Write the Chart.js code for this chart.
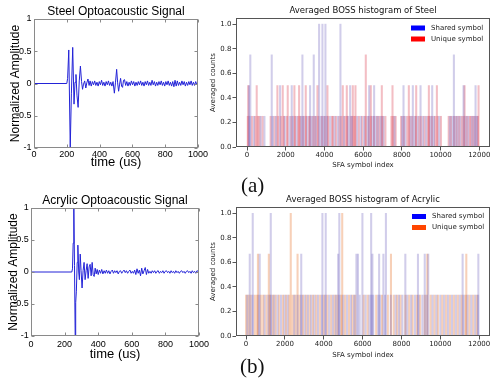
<!DOCTYPE html>
<html><head><meta charset="utf-8">
<script src="https://cdn.jsdelivr.net/npm/chart.js@4/dist/chart.umd.min.js"></script>
<style>
html,body{margin:0;padding:0;overflow:hidden;background:#fff;width:490px;height:382px;}
canvas{position:absolute;}
.lbl{position:absolute;font-family:"Liberation Serif",serif;font-size:21px;line-height:21px;color:#111;}
</style></head><body>
<canvas id="sigSteel" width="215" height="180" style="left:0;top:0"></canvas>
<canvas id="sigAcr" width="215" height="180" style="left:0;top:190px"></canvas>
<canvas id="histSteel" width="300" height="175" style="left:200px;top:0"></canvas>
<canvas id="histAcr" width="300" height="175" style="left:200px;top:190px"></canvas>
<div class="lbl" style="left:241px;top:175px">(a)</div>
<div class="lbl" style="left:240px;top:356px">(b)</div>
<script>
// ---------- data ----------
const timeTicks = [0, 200, 400, 600, 800, 1000];
const ampTicks = [-1, -0.5, 0, 0.5, 1];
const sfaTicks = [0, 2000, 4000, 6000, 8000, 10000, 12000];
const countTicks = [0, 0.2, 0.4, 0.6, 0.8, 1.0];

const steelT = [
0, 200, 205, 212, 221, 228, 236, 244, 250, 256,
262, 269, 276, 283, 290, 296, 302, 309, 316, 322,
329, 336, 342, 349, 356, 363, 370, 377, 384, 391,
398, 405, 412, 419, 426, 433, 440, 447, 454, 461,
468, 475, 482, 490, 497, 504, 510, 516, 522, 528,
534, 540, 546, 552, 559, 566, 573, 580, 587, 594,
601, 608, 615, 622, 629, 636, 643, 650, 657, 664,
671, 678, 685, 692, 699, 706, 713, 720, 727, 734,
741, 748, 755, 762, 769, 776, 783, 790, 797, 804,
811, 818, 825, 832, 839, 846, 853, 860, 867, 874,
881, 888, 895, 902, 909, 916, 923, 930, 937, 944,
951, 958, 965, 972, 979, 986, 993, 1000];
const steelAmp = [
0, 0, 0.08, 0.52, -1.0, -0.15, 0.56, -0.32, 0.02, 0.14,
-0.18, -0.37, 0.04, 0.27, 0.03, -0.09, -0.01, 0.04, -0.07, 0.01,
0.07, -0.03, 0.04, -0.04, 0.03, -0.02, 0.04, -0.03, 0.02, -0.04,
0.03, -0.02, 0.05, -0.03, 0.02, -0.04, 0.03, -0.02, 0.04, -0.03,
0.02, -0.04, 0.03, -0.15, 0.02, 0.22, 0.01, -0.12, -0.01, 0.08,
-0.04, -0.06, 0.05, 0.06, -0.03, 0.03, -0.04, 0.02, -0.03, 0.04,
-0.02, 0.03, -0.04, 0.02, -0.03, 0.03, -0.02, 0.04, -0.03, 0.02,
-0.04, 0.03, -0.02, 0.04, -0.03, 0.02, -0.03, 0.05, -0.02, 0.03,
-0.04, 0.02, -0.03, 0.03, -0.02, 0.04, -0.03, 0.02, -0.04, 0.03,
-0.02, 0.04, -0.03, 0.02, -0.04, 0.03, -0.05, 0.05, -0.04, 0.04,
-0.03, 0.02, -0.03, 0.04, -0.02, 0.03, -0.04, 0.02, -0.03, 0.03,
-0.02, 0.04, -0.03, 0.02, -0.03, 0.03, -0.02, 0.02];

const acrT = [
0, 243, 247, 251, 255, 259, 263, 266, 270, 275,
279, 284, 288, 293, 298, 304, 310, 316, 322, 328,
334, 340, 346, 352, 358, 364, 370, 376, 382, 388,
394, 400, 407, 414, 421, 428, 435, 442, 449, 456,
463, 470, 477, 484, 491, 498, 505, 512, 519, 526,
533, 540, 547, 554, 561, 568, 575, 582, 589, 596,
603, 610, 617, 624, 631, 638, 645, 652, 659, 666,
673, 680, 687, 694, 701, 708, 715, 722, 729, 736,
743, 750, 757, 764, 771, 778, 785, 792, 799, 806,
813, 820, 827, 834, 841, 848, 855, 862, 869, 876,
883, 890, 897, 904, 911, 918, 925, 932, 939, 946,
953, 960, 967, 974, 981, 988, 995, 1000];
const acrAmp = [
0, 0, 0.05, 0.45, 1.0, 0.1, -1.0, -0.48, -0.3, 0.15,
0.42, 0.0, -0.12, 0.28, 0.02, -0.25, 0.02, 0.15, -0.12, 0.02,
0.13, -0.1, 0.08, 0.12, -0.06, 0.15, -0.04, -0.07, 0.06, -0.03,
0.04, -0.04, 0.03, -0.02, 0.04, -0.03, 0.02, -0.02, 0.03, -0.02,
0.02, -0.03, 0.01, 0.03, -0.02, 0.02, -0.01, 0.02, -0.03, 0.01,
0.02, -0.02, 0.01, 0.03, -0.01, 0.02, -0.02, 0.01, 0.03, -0.02,
0.01, -0.02, 0.03, -0.04, 0.05, -0.02, 0.03, -0.06, 0.06, -0.03,
0.02, 0.07, -0.04, 0.04, -0.02, 0.01, -0.02, 0.02, -0.01, 0.02,
-0.02, 0.01, 0.02, -0.02, 0.01, -0.01, 0.02, -0.02, 0.01, 0.02,
-0.01, 0.01, -0.02, 0.02, -0.01, 0.01, -0.02, 0.02, -0.01, 0.01,
-0.02, 0.01, 0.02, -0.01, 0.01, -0.02, 0.01, 0.02, -0.01, 0.01,
-0.02, 0.02, -0.01, 0.01, -0.02, 0.02, 0.01, 0.02];

// [symbol index, averaged count]
const steelShared = [
[100,0.5],[170,0.75],[1276,0.75],[1707,0.5],[2310,0.5],[2862,0.75],[3258,0.5],[3448,0.75],
[3724,1],[3896,1],[4051,1],[4827,1],[5327,0.5],[6310,0.5],[6568,0.5],[8086,0.5],[8568,0.5],
[8965,0.5],[9568,0.5],[10689,0.75],[11189,0.5],[11809,0.5],
[140,0.25],[360,0.25],[700,0.25],[900,0.25],[1330,0.25],[1500,0.25],[1950,0.25],[2200,0.25],
[2380,0.25],[2560,0.25],[2800,0.25],[2940,0.25],[3120,0.25],[3340,0.25],[3560,0.25],[3800,0.25],
[3960,0.25],[4120,0.25],[4300,0.25],[4520,0.25],[4700,0.25],[5010,0.25],[5230,0.25],[5420,0.25],
[5690,0.25],[5880,0.25],[6050,0.25],[6230,0.25],[6480,0.25],[6650,0.25],[6780,0.25],[6920,0.25],
[7050,0.25],[7620,0.25],[8020,0.25],[8180,0.25],[8460,0.25],[8660,0.25],[8820,0.25],[9100,0.25],
[9260,0.25],[9470,0.25],[9660,0.25],[9930,0.25],[10480,0.25],[10610,0.25],[10780,0.25],[10890,0.25],
[11020,0.25],[11300,0.25],[11430,0.25],[11620,0.25],[11740,0.25],[11880,0.25]];
const steelUnique = [
[60,0.5],[500,0.5],[1569,0.5],[1845,0.5],[2103,0.5],[2448,0.5],[2690,0.5],[3034,0.5],[3638,0.5],
[4155,0.5],[4948,0.5],[5155,0.5],[5465,0.5],[5603,0.5],[6137,0.75],[6396,0.5],[6965,0.5],[7517,0.5],
[8361,0.5],[8741,0.5],[9396,0.5],[9810,0.5],[11240,0.5],[11964,0.5],
[40,0.25],[260,0.25],[430,0.25],[560,0.25],[640,0.25],[800,0.25],[1220,0.25],[1420,0.25],
[1620,0.25],[1760,0.25],[1900,0.25],[2060,0.25],[2290,0.25],[2480,0.25],[2640,0.25],[2740,0.25],
[2880,0.25],[3040,0.25],[3200,0.25],[3270,0.25],[3420,0.25],[3520,0.25],[3680,0.25],[3870,0.25],
[4020,0.25],[4200,0.25],[4390,0.25],[4450,0.25],[4600,0.25],[4780,0.25],[4880,0.25],[5080,0.25],
[5180,0.25],[5360,0.25],[5500,0.25],[5580,0.25],[5780,0.25],[5950,0.25],[6120,0.25],[6290,0.25],
[6400,0.25],[6560,0.25],[6720,0.25],[6840,0.25],[7000,0.25],[7150,0.25],[7460,0.25],[7560,0.25],
[7680,0.25],[7960,0.25],[8100,0.25],[8280,0.25],[8400,0.25],[8540,0.25],[8720,0.25],[8900,0.25],
[9000,0.25],[9170,0.25],[9340,0.25],[9420,0.25],[9560,0.25],[9720,0.25],[9840,0.25],[10020,0.25],
[10420,0.25],[10540,0.25],[10700,0.25],[10830,0.25],[10960,0.25],[11100,0.25],[11200,0.25],[11360,0.25],
[11500,0.25],[11560,0.25],[11680,0.25],[11800,0.25],[11930,0.25]];

const acrShared = [
[188,0.667],[342,1],[700,0.667],[1270,1],[2840,0.667],[3930,1],[4100,1],[4740,0.667],[4800,1],
[5680,0.667],[5760,0.667],[5990,1],[6440,1],[6505,0.667],[6850,0.667],[7070,0.667],[7200,1],
[8200,0.667],[8850,0.667],[9200,0.667],[9380,0.667],[11150,0.667],[11960,0.667],
[60,0.333],[330,0.333],[650,0.333],[950,0.333],[1150,0.333],[1300,0.333],[1450,0.333],[1620,0.333],
[1800,0.333],[1980,0.333],[2140,0.333],[2480,0.333],[2650,0.333],[2850,0.333],[3020,0.333],[3180,0.333],
[3350,0.333],[3520,0.333],[3700,0.333],[3900,0.333],[4080,0.333],[4280,0.333],[4470,0.333],[4620,0.333],
[4800,0.333],[5000,0.333],[5200,0.333],[5400,0.333],[5560,0.333],[5850,0.333],[6150,0.333],[6350,0.333],
[6450,0.333],[6550,0.333],[6800,0.333],[6900,0.333],[7150,0.333],[7450,0.333],[7700,0.333],[7870,0.333],
[8050,0.333],[8300,0.333],[8500,0.333],[8700,0.333],[8880,0.333],[9080,0.333],[9300,0.333],[9600,0.333],
[9800,0.333],[10000,0.333],[10200,0.333],[10400,0.333],[10600,0.333],[10800,0.333],[11000,0.333],[11200,0.333],
[11400,0.333],[11600,0.333],[11800,0.333],[11950,0.333]];
const acrUnique = [
[610,0.667],[1170,0.667],[2300,1],[2650,0.667],[4950,1],[7460,0.667],[9330,0.667],[11340,0.667],
[0,0.333],[120,0.333],[230,0.333],[450,0.333],[560,0.333],[760,0.333],[880,0.333],[1050,0.333],
[1230,0.333],[1380,0.333],[1520,0.333],[1700,0.333],[1900,0.333],[2060,0.333],[2220,0.333],[2400,0.333],
[2540,0.333],[2760,0.333],[2930,0.333],[3100,0.333],[3270,0.333],[3440,0.333],[3610,0.333],[3800,0.333],
[4000,0.333],[4180,0.333],[4380,0.333],[4560,0.333],[4700,0.333],[4900,0.333],[5100,0.333],[5300,0.333],
[5480,0.333],[5620,0.333],[6050,0.333],[6260,0.333],[6700,0.333],[7000,0.333],[7300,0.333],[7600,0.333],
[7780,0.333],[7950,0.333],[8200,0.333],[8400,0.333],[8580,0.333],[8800,0.333],[8960,0.333],[9200,0.333],
[9500,0.333],[9700,0.333],[9880,0.333],[10100,0.333],[10300,0.333],[10500,0.333],[10700,0.333],[10900,0.333],
[11100,0.333],[11300,0.333],[11500,0.333],[11700,0.333],[11880,0.333]];

// ---------- plugins ----------
const setTicks = list => s => { s.ticks = list.map(v => ({ value: v })); };

const frame = {
  id: 'frame',
  afterDraw(chart, args, o) {
    const { ctx, chartArea: a } = chart;
    ctx.save();
    ctx.strokeStyle = o.color; ctx.lineWidth = 1;
    const l = Math.round(a.left) + 0.5, t = Math.round(a.top) + 0.5;
    const r = Math.round(a.right) - 0.5, b = Math.round(a.bottom) - 0.5;
    ctx.strokeRect(l, t, r - l, b - t);
    if (o.inTicks) {
      const L = o.inTicks, xs = chart.scales.x, ys = chart.scales.y;
      ctx.beginPath();
      xs.ticks.forEach(tk => {
        const p = Math.round(xs.getPixelForValue(tk.value)) + 0.5;
        ctx.moveTo(p, b); ctx.lineTo(p, b - L); ctx.moveTo(p, t); ctx.lineTo(p, t + L);
      });
      ys.ticks.forEach(tk => {
        const p = Math.round(ys.getPixelForValue(tk.value)) + 0.5;
        ctx.moveTo(l, p); ctx.lineTo(l + L, p); ctx.moveTo(r, p); ctx.lineTo(r - L, p);
      });
      ctx.stroke();
    }
    ctx.restore();
  }
};
const plotTitle = {
  id: 'plotTitle',
  afterDraw(chart, args, o) {
    const { ctx, chartArea: a } = chart;
    ctx.save();
    ctx.font = o.font; ctx.fillStyle = o.color;
    ctx.textAlign = 'center'; ctx.textBaseline = 'middle';
    ctx.fillText(o.text, (a.left + a.right) / 2, o.y);
    ctx.restore();
  }
};
const boxLegend = {
  id: 'boxLegend',
  afterDraw(chart, args, o) {
    const ctx = chart.ctx;
    ctx.save();
    ctx.font = o.font; ctx.textBaseline = 'middle'; ctx.textAlign = 'left';
    chart.data.datasets.forEach((ds, i) => {
      const y = o.y + i * o.rowH;
      ctx.fillStyle = o.colors[i];
      ctx.fillRect(o.x, y - 2.5, 14, 5);
      ctx.fillStyle = '#222';
      ctx.fillText(ds.label, o.x + 20, y);
    });
    ctx.restore();
  }
};

// ---------- charts ----------
function signalChart(id, t, amp, o) {
  const lab = { family: 'Liberation Sans' };
  return new Chart(document.getElementById(id), {
    type: 'line',
    data: { datasets: [{ data: t.map((x, i) => ({ x, y: amp[i] })), borderColor: 'rgb(35,35,215)',
      borderWidth: 1, pointRadius: 0, tension: 0, fill: false }] },
    options: {
      responsive: false, animation: false, devicePixelRatio: 1,
      layout: { padding: { left: 0, right: o.padR, top: o.padT, bottom: 0 } },
      plugins: {
        legend: { display: false }, tooltip: { enabled: false },
        plotTitle: { text: o.title, y: o.titleY, font: '12px "Liberation Sans"', color: '#000' },
        frame: { color: '#8a8a8a', inTicks: 3 }
      },
      scales: {
        x: { type: 'linear', min: 0, max: 1000, afterBuildTicks: setTicks(timeTicks),
          afterFit: s => { s.height = o.xH; },
          grid: { display: false, drawTicks: false }, border: { display: false },
          ticks: { padding: o.xTickPad, font: { ...lab, size: 9 }, color: '#000', maxRotation: 0, autoSkip: false,
            callback: v => String(v) },
          title: { display: true, text: 'time (us)', font: { ...lab, size: 13 }, color: '#000',
            padding: { top: 0, bottom: o.xTitlePad } } },
        y: { type: 'linear', min: -1, max: 1, afterBuildTicks: setTicks(ampTicks),
          afterFit: s => { s.width = o.yW; },
          grid: { display: false, drawTicks: false }, border: { display: false },
          ticks: { padding: o.yTickPad, font: { ...lab, size: 9 }, color: '#000', callback: v => String(v) },
          title: { display: true, text: 'Normalized Amplitude', font: { ...lab, size: 12 }, color: '#000',
            padding: { top: o.yTitlePad, bottom: 0 } } }
      }
    },
    plugins: [frame, plotTitle]
  });
}

function histChart(id, shared, unique, o) {
  const f = { family: 'DejaVu Sans', size: 7 };
  const grid = { display: true, drawOnChartArea: false, drawTicks: true, tickLength: 3.5, color: '#555', offset: false };
  return new Chart(document.getElementById(id), {
    type: 'bar',
    data: { datasets: [
      { label: 'Shared symbol', data: shared.map(p => ({ x: p[0], y: p[1] })), backgroundColor: o.sharedFill },
      { label: 'Unique symbol', data: unique.map(p => ({ x: p[0], y: p[1] })), backgroundColor: o.uniqueFill }
    ] },
    options: {
      responsive: false, animation: false, devicePixelRatio: 1,
      datasets: { bar: { barThickness: 1.4, grouped: false, borderWidth: 0 } },
      layout: { padding: { left: 0, right: 10, top: o.padT, bottom: 0 } },
      plugins: {
        legend: { display: false }, tooltip: { enabled: false },
        plotTitle: { text: o.title, y: o.titleY, font: '8.5px "DejaVu Sans"', color: '#111' },
        frame: { color: '#555' },
        boxLegend: { x: o.legX, y: o.legY, rowH: 11, font: '7px "DejaVu Sans"', colors: o.legColors }
      },
      scales: {
        x: { type: 'linear', min: o.xMin, max: o.xMax, offset: false, afterBuildTicks: setTicks(sfaTicks),
          afterFit: s => { s.height = o.xH; },
          grid, border: { display: false },
          ticks: { padding: o.xTickPad, font: f, color: '#222', maxRotation: 0, autoSkip: false, callback: v => String(v) },
          title: { display: true, text: 'SFA symbol index', font: f, color: '#222', padding: { top: 0, bottom: 5.8 } } },
        y: { type: 'linear', min: 0, max: 1.05, afterBuildTicks: setTicks(countTicks),
          afterFit: s => { s.width = 36; },
          grid, border: { display: false },
          ticks: { padding: 1, font: f, color: '#222', callback: v => v.toFixed(1) },
          title: { display: true, text: 'Averaged counts', font: f, color: '#222', padding: { top: 8.5, bottom: 0 } } }
      }
    },
    plugins: [frame, plotTitle, boxLegend]
  });
}

signalChart('sigSteel', steelT, steelAmp, { title: 'Steel Optoacoustic Signal', titleY: 11.5,
  padR: 17, padT: 19, xH: 32, yW: 34, xTickPad: 1, xTitlePad: 9.7, yTickPad: 2.5, yTitlePad: 8.2 });
signalChart('sigAcr', acrT, acrAmp, { title: 'Acrylic Optoacoustic Signal', titleY: 10.5,
  padR: 16, padT: 18, xH: 34, yW: 31, xTickPad: 3.6, xTitlePad: 8, yTickPad: 2.3, yTitlePad: 6.7 });

histChart('histSteel', steelShared, steelUnique, { title: 'Averaged BOSS histogram of Steel', titleY: 11,
  padT: 18, xH: 28, xTickPad: 0.3, xMin: -570, xMax: 12555,
  sharedFill: 'rgba(90,75,180,0.28)', uniqueFill: 'rgba(215,40,60,0.3)',
  legX: 211, legY: 28, legColors: ['#0000ff', '#ff0000'] });
histChart('histAcr', acrShared, acrUnique, { title: 'Averaged BOSS histogram of Acrylic', titleY: 10,
  padT: 17.2, xH: 29, xTickPad: 0.8, xMin: -520, xMax: 12560,
  sharedFill: 'rgba(90,75,180,0.28)', uniqueFill: 'rgba(230,100,20,0.3)',
  legX: 212, legY: 26.5, legColors: ['#0000ff', '#ff4500'] });
</script>
</body></html>
